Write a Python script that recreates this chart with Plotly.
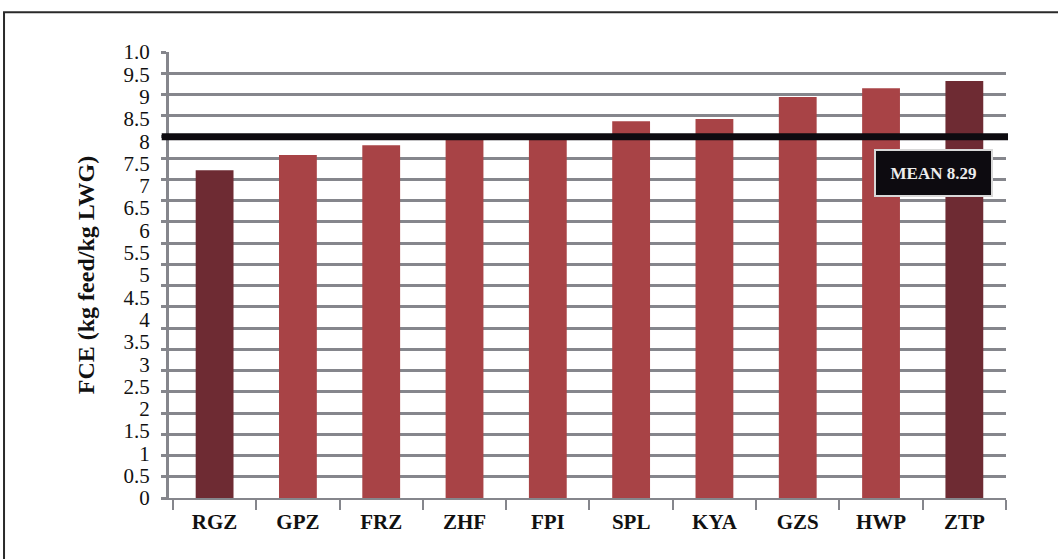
import plotly.graph_objects as go

categories = ["RGZ", "GPZ", "FRZ", "ZHF", "FPI", "SPL", "KYA", "GZS", "HWP", "ZTP"]
fce_values = [7.35, 7.69, 7.91, 8.07, 8.07, 8.45, 8.50, 8.99, 9.19, 9.35]
bar_colors = ["#6E2B33", "#A84346", "#A84346", "#A84346", "#A84346",
              "#A84346", "#A84346", "#A84346", "#A84346", "#6E2B33"]
tick_vals = [i * 0.5 for i in range(21)]
tick_text = ["0", "0.5", "1", "1.5", "2", "2.5", "3", "3.5", "4", "4.5", "5",
             "5.5", "6", "6.5", "7", "7.5", "8", "8.5", "9", "9.5", "1.0"]
mean_level_drawn = 8.1
mean_label = "MEAN 8.29"

GRID = "#85868C"
SERIF = "Liberation Serif"

fig = go.Figure()
fig.add_trace(go.Bar(
    x=categories, y=fce_values, marker=dict(color=bar_colors, line=dict(width=0)),
    yaxis="y", showlegend=False, hoverinfo="x+y",
))
# invisible trace so the gridline axis is rendered
fig.add_trace(go.Scatter(x=[categories[0]], y=[None], yaxis="y2", mode="markers",
                         showlegend=False, hoverinfo="skip"))

fig.update_layout(
    width=1058, height=559,
    margin=dict(l=169, r=52, t=52, b=61),
    paper_bgcolor="white", plot_bgcolor="white",
    bargap=0.546,
    font=dict(family=SERIF, color="#111111"),
    xaxis=dict(
        type="category", showgrid=False, showline=True, linecolor=GRID, linewidth=2,
        ticks="outside", tickson="boundaries", ticklen=10, tickwidth=2, tickcolor=GRID,
        tickfont=dict(family=SERIF, size=21, color="#111111"),
        tickprefix="<b>", ticksuffix="</b>", ticklabelstandoff=4,
    ),
    # label axis (values)
    yaxis=dict(
        range=[0, 10], side="left", showgrid=False, zeroline=False,
        showline=False, tickvals=tick_vals, ticktext=tick_text,
        ticks="outside", ticklen=14, tickcolor="rgba(0,0,0,0)",
        tickfont=dict(family=SERIF, size=21, color="#111111"),
        title=dict(text="<b>FCE (kg feed/kg LWG)</b>", font=dict(family=SERIF, size=24, color="#111111"),
                   standoff=22),
    ),
    # gridline axis
    yaxis2=dict(
        range=[0, 10.5], dtick=0.5, tick0=0, overlaying="y", side="left",
        showgrid=True, gridcolor=GRID, gridwidth=2.5,
        showline=True, linecolor=GRID, linewidth=2.5, zeroline=False,
        ticks="outside", ticklen=5, tickwidth=2.5, tickcolor=GRID, showticklabels=False,
    ),
)

# mean line
fig.add_shape(type="line", xref="paper", yref="y", x0=-0.0087, x1=1.0024,
              y0=mean_level_drawn, y1=mean_level_drawn,
              line=dict(color="#0D0B10", width=7), layer="above")

# mean label box
fig.add_annotation(
    xref="paper", yref="paper", x=0.9134, y=0.7284, xanchor="center", yanchor="middle",
    text="<b>" + mean_label + "</b>", showarrow=False,
    font=dict(family=SERIF, size=17, color="#EDEDED"),
    bgcolor="#0D0B10", bordercolor="#D8D8D8", borderwidth=2,
    width=113, height=42,
)

# outer frame
fig.add_shape(type="rect", xref="paper", yref="paper",
              x0=-0.1971, x1=1.2, y0=-0.3, y1=1.0889,
              line=dict(color="#2A2A2A", width=2), layer="below")

fig.write_html("out.html", config={"displayModeBar": False},
               post_script="document.body.style.margin='0';")
